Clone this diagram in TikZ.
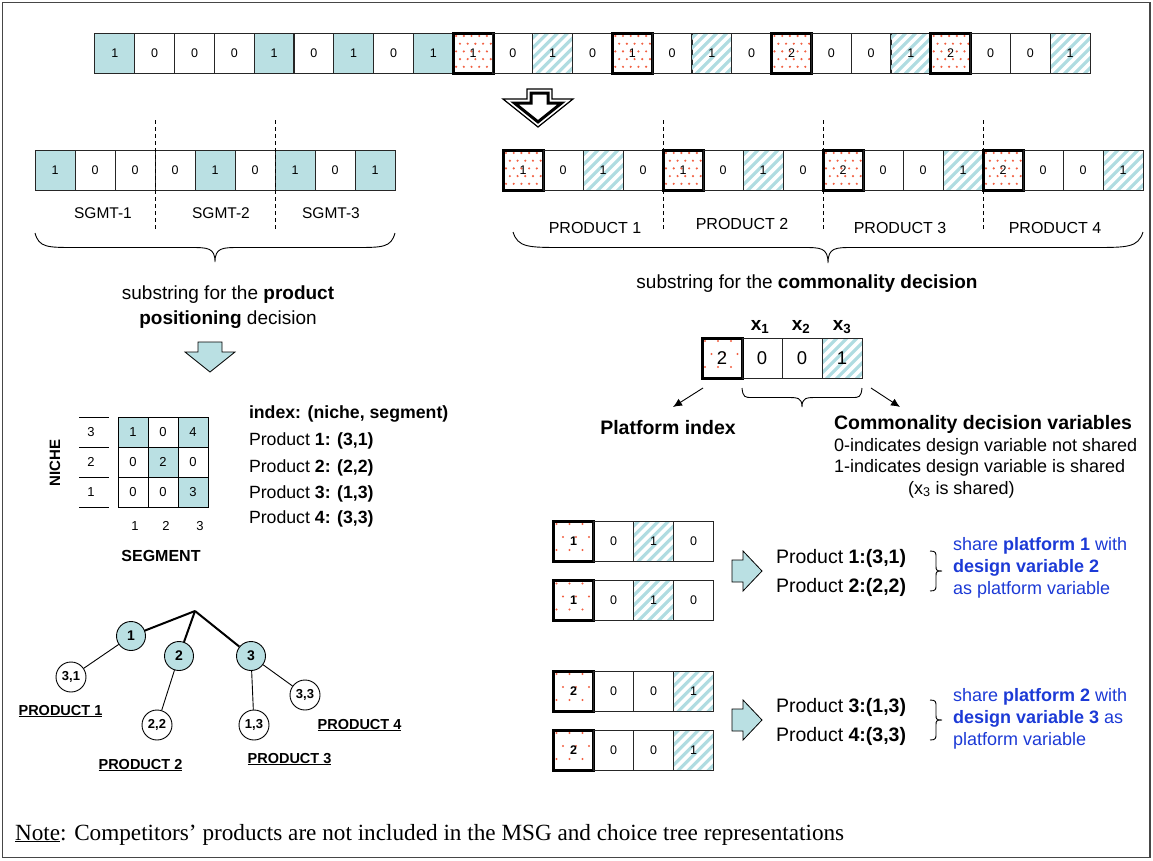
\documentclass[tikz,border=0pt]{standalone}
\usepackage{fontspec}
\setmainfont{Liberation Sans}
\newfontfamily\notefont{Liberation Serif}
\usetikzlibrary{arrows.meta,calc}

\definecolor{tealc}{RGB}{186,224,227}
\definecolor{hatchc}{RGB}{176,220,225}
\definecolor{dotred}{RGB}{242,96,66}
\definecolor{bluetxt}{RGB}{28,58,214}
\definecolor{framec}{RGB}{70,70,70}

\newcommand\fs[1]{\fontsize{#1}{#1}\selectfont}
% staggered grid of red dots, clipped to the current cell
\newcommand\dotgrid[1]{%
  \foreach \pj in {0,...,5}{\foreach \pk in {0,...,5}{%
    \fill[dotred] ($(path picture bounding box.north west)+({3pt+\pk*#1pt+mod(\pj,2)*#1pt/2},{-3pt-\pj*#1pt})$) circle (1.2pt);}}}
% diagonal teal stripes, clipped to the current cell
\newcommand\hatchgrid{%
  \foreach \hk in {-6,...,6}{%
    \draw[hatchc,line width=3.2pt] ($(path picture bounding box.south west)+(\hk*10pt,-5pt)$) -- ++(60pt,60pt);}}
% downward curly brace: x-left, x-right, y of the arm ends, y of the tip, arm run, tip run
\newcommand\downbrace[6]{%
  \pgfmathsetmacro\brmid{(#1+#2)/2}%
  \pgfmathsetmacro\brlev{(#3+#4)/2}%
  \draw[brace] (#1,#3) .. controls (#1+0.1*#5,\brlev) and (#1+0.3*#5,\brlev) .. (#1+#5,\brlev)
    -- (\brmid-#6,\brlev) .. controls (\brmid-0.3*#6,\brlev) and (\brmid,\brlev) .. (\brmid,#4)
    .. controls (\brmid,\brlev) and (\brmid+0.3*#6,\brlev) .. (\brmid+#6,\brlev)
    -- (#2-#5,\brlev) .. controls (#2-0.3*#5,\brlev) and (#2-0.1*#5,\brlev) .. (#2,#3);}
% small right-pointing brace: x of the arm ends, x of the tip, y-top, y-bottom
\newcommand\rightbrace[4]{%
  \pgfmathsetmacro\brmid{(#3+#4)/2}%
  \pgfmathsetmacro\brlev{(#1+#2)/2}%
  \draw[brace] (#1,#3) .. controls (\brlev,#3) and (\brlev,#3+2) .. (\brlev,#3+6)
    -- (\brlev,\brmid-5) .. controls (\brlev,\brmid-1) and (\brlev,\brmid) .. (#2,\brmid)
    .. controls (\brlev,\brmid) and (\brlev,\brmid+1) .. (\brlev,\brmid+5)
    -- (\brlev,#4-6) .. controls (\brlev,#4-2) and (\brlev,#4) .. (#1,#4);}

\tikzset{
  cellbox/.style={draw=black!85, line width=0.9pt, minimum width=40pt, minimum height=40pt,
    inner sep=0pt, outer sep=0pt, font=\fs{12.5}},
  tealcell/.style={fill=tealc},
  plaincell/.style={},
  hatchcell/.style={path picture={\hatchgrid}},
  dotcell/.style={line width=3pt, draw=black, path picture={\dotgrid{#1}}},
  dotcell/.default=7.7,
  sparsedots/.style={dotcell=13},
  gcell/.style={draw=black, line width=0.9pt, minimum size=30pt, inner sep=0pt, font=\fs{13}},
  lbl/.style={inner sep=0pt, outer sep=0pt},
  dashline/.style={dash pattern=on 4pt off 3pt, line width=0.9pt},
  brace/.style={line width=0.9pt},
  tnode/.style={circle, draw, line width=0.9pt, fill=tealc, minimum size=29pt, inner sep=0pt, font=\bfseries\fs{14}},
  leaf/.style={circle, draw, line width=0.9pt, fill=white, minimum size=30pt, inner sep=0pt, font=\bfseries\fs{13}},
  prodlbl/.style={lbl, anchor=base, font=\bfseries\fs{14.5}},
  blockarrow/.style={fill=tealc, draw=black, line width=0.8pt, line join=miter},
  pointer/.style={line width=0.9pt, -{Latex[length=9pt,width=8pt]}},
}

\begin{document}
\begin{tikzpicture}[x=1pt,y=-1pt]
\useasboundingbox (0,0) rectangle (1153,860);
\draw[framec,line width=1.5pt] (2.5,2.5) rectangle (1150,857.5);

% ---------- full chromosome ----------
\foreach \s/\v [count=\i from 0] in {tealcell/1,plaincell/0,plaincell/0,plaincell/0,tealcell/1,plaincell/0,tealcell/1,plaincell/0,tealcell/1,
  dotcell/1,plaincell/0,hatchcell/1,plaincell/0,dotcell/1,plaincell/0,hatchcell/1,plaincell/0,
  dotcell/2,plaincell/0,plaincell/0,hatchcell/1,dotcell/2,plaincell/0,plaincell/0,hatchcell/1}
  \node[cellbox,\s] (top\i) at ({114.9+\i*39.8},53) {\v};

% hollow split arrow
\draw[line width=1.2pt, fill=white, line join=miter] (527,89) -- (552,89) -- (552,99) -- (573,99) -- (538,127) -- (503,99) -- (527,99) -- cycle;
\draw[line width=3pt, fill=white, line join=miter] (531,93) -- (548,93) -- (548,103) -- (561.6,103) -- (538,121.9) -- (514.4,103) -- (531,103) -- cycle;

% ---------- product positioning substring ----------
\foreach \s/\v [count=\i from 0] in {tealcell/1,plaincell/0,plaincell/0,plaincell/0,tealcell/1,plaincell/0,tealcell/1,plaincell/0,tealcell/1}
  \node[cellbox,\s] (ps\i) at ({55+\i*40},170) {\v};
\draw[dashline] (155,120) -- (155,230);
\draw[dashline] (275,120) -- (275,230);
\node[lbl,anchor=base,font=\fs{15.5}] (sg1) at (103,218.5) {SGMT-1};
\node[lbl,anchor=base,font=\fs{15.5}] (sg2) at (221,218.5) {SGMT-2};
\node[lbl,anchor=base,font=\fs{15.5}] (sg3) at (331,218.5) {SGMT-3};
\downbrace{35}{395}{233}{262}{40}{25}
\node[lbl,anchor=base,font=\fs{19}] (subl1) at (228,299) {substring for the \textbf{product}};
\node[lbl,anchor=base,font=\fs{19}] (subl2) at (228,324) {\textbf{positioning} decision};

% ---------- commonality substring ----------
\foreach \s/\v [count=\i from 0] in {dotcell/1,plaincell/0,hatchcell/1,plaincell/0,dotcell/1,plaincell/0,hatchcell/1,plaincell/0,
  dotcell/2,plaincell/0,plaincell/0,hatchcell/1,dotcell/2,plaincell/0,plaincell/0,hatchcell/1}
  \node[cellbox,\s] (cs\i) at ({523+\i*40},170) {\v};
\draw[dashline] (663,120) -- (663,230);
\draw[dashline] (823,120) -- (823,230);
\draw[dashline] (983,120) -- (983,230);
\node[lbl,anchor=base,font=\fs{16}] (pr1) at (595,233.8) {PRODUCT 1};
\node[lbl,anchor=base,font=\fs{16}] (pr2) at (742,229.8) {PRODUCT 2};
\node[lbl,anchor=base,font=\fs{16}] (pr3) at (900,233.8) {PRODUCT 3};
\node[lbl,anchor=base,font=\fs{16}] (pr4) at (1055,233.8) {PRODUCT 4};
\downbrace{513}{1143}{232}{263}{50}{25}
\node[lbl,anchor=base,font=\fs{19}] (subr) at (807,288) {substring for the \textbf{commonality decision}};

% ---------- market segmentation grid ----------
\draw[blockarrow] (198,342) -- (222,342) -- (222,352) -- (235,352) -- (210,372) -- (185,352) -- (198,352) -- cycle;
\node[gcell,fill=tealc] (g11) at (133,432) {1};
\node[gcell] (g12) at (163,432) {0};
\node[gcell,fill=tealc] (g13) at (193,432) {4};
\node[gcell] (g21) at (133,462) {0};
\node[gcell,fill=tealc] (g22) at (163,462) {2};
\node[gcell] (g23) at (193,462) {0};
\node[gcell] (g31) at (133,492) {0};
\node[gcell] (g32) at (163,492) {0};
\node[gcell,fill=tealc] (g33) at (193,492) {3};
\foreach \yy in {417,447,477,507} \draw[line width=0.9pt] (79,\yy) -- (109,\yy);
\node[lbl,font=\fs{13}] (nr3) at (91,432) {3};
\node[lbl,font=\fs{13}] (nr2) at (91,462) {2};
\node[lbl,font=\fs{13}] (nr1) at (91,492) {1};
\node[lbl,font=\fs{13}] (sc1) at (135,526) {1};
\node[lbl,font=\fs{13}] (sc2) at (166,526) {2};
\node[lbl,font=\fs{13}] (sc3) at (200,526) {3};
\node[lbl,rotate=90,font=\bfseries\fs{15}] (niche) at (55,463) {NICHE};
\node[lbl,font=\bfseries\fs{16}] (segment) at (161,556) {SEGMENT};
\node[lbl,anchor=base west,font=\fs{17.7}] (ix0) at (249,418) {\textbf{index: (niche, segment)}};
\node[lbl,anchor=base west,font=\fs{17.7}] (ix1) at (249,445) {Product \textbf{1: (3,1)}};
\node[lbl,anchor=base west,font=\fs{17.7}] (ix2) at (249,472) {Product \textbf{2: (2,2)}};
\node[lbl,anchor=base west,font=\fs{17.7}] (ix3) at (249,498) {Product \textbf{3: (1,3)}};
\node[lbl,anchor=base west,font=\fs{17.7}] (ix4) at (249,523.5) {Product \textbf{4: (3,3)}};

% ---------- choice tree ----------
\coordinate (root) at (195,611);
\node[tnode] (n1) at (131,636) {1};
\node[tnode] (n2) at (179,656) {2};
\node[tnode] (n3) at (251,656) {3};
\node[leaf] (l31) at (71,677) {3,1};
\node[leaf] (l22) at (157,725) {2,2};
\node[leaf] (l13) at (254,725) {1,3};
\node[leaf] (l33) at (305,695) {3,3};
\draw[line width=2pt] (root) -- (n1);
\draw[line width=2pt] (root) -- (n2);
\draw[line width=2pt] (root) -- (n3);
\draw[line width=0.9pt] (n1) -- (l31);
\draw[line width=0.9pt] (n2) -- (l22);
\draw[line width=0.9pt] (n3) -- (l13);
\draw[line width=0.9pt] (n3) -- (l33);
\node[prodlbl] (tp1) at (60.5,715) {\underline{PRODUCT 1}};
\node[prodlbl] (tp2) at (140.5,769) {\underline{PRODUCT 2}};
\node[prodlbl] (tp3) at (289.5,763) {\underline{PRODUCT 3}};
\node[prodlbl] (tp4) at (359.5,729) {\underline{PRODUCT 4}};

% ---------- product substring layout ----------
\foreach \s/\v [count=\i from 0] in {sparsedots/2,plaincell/0,plaincell/0,hatchcell/1}
  \node[cellbox,font=\fs{18.5},\s] (pc\i) at ({722+\i*40},358) {\v};
\node[lbl,anchor=base,font=\bfseries\fs{19}] (x1) at (760,330) {x\textsubscript{1}};
\node[lbl,anchor=base,font=\bfseries\fs{19}] (x2) at (801,330) {x\textsubscript{2}};
\node[lbl,anchor=base,font=\bfseries\fs{19}] (x3) at (842,330) {x\textsubscript{3}};
\downbrace{742}{862}{388}{407}{10}{15}
\coordinate (pa1s) at (703,388);
\coordinate (pa1e) at (673,407);
\coordinate (pa2s) at (871,388);
\coordinate (pa2e) at (900,407);
\draw[pointer] (pa1s) -- (pa1e);
\draw[pointer] (pa2s) -- (pa2e);
\node[lbl,anchor=base,font=\bfseries\fs{19.5}] (pidx) at (668,434) {Platform index};
\node[lbl,anchor=base west,font=\bfseries\fs{19.5}] (cdv) at (834,429) {Commonality decision variables};
\node[lbl,anchor=base west,font=\fs{18}] (cdv0) at (834,451) {0-indicates design variable not shared};
\node[lbl,anchor=base west,font=\fs{18}] (cdv1) at (834,472) {1-indicates design variable is shared};
\node[lbl,anchor=base west,font=\fs{18}] (cdv2) at (908,494) {(x\textsubscript{3} is shared)};

% ---------- platform groups ----------
\foreach \yy/\rn in {541/rowa,600.5/rowb}{
  \node[cellbox,sparsedots] (\rn0) at (573.5,\yy) {\textbf{1}};
  \node[cellbox,plaincell] (\rn1) at (613.5,\yy) {0};
  \node[cellbox,hatchcell] (\rn2) at (653.5,\yy) {1};
  \node[cellbox,plaincell] (\rn3) at (693.5,\yy) {0};
}
\foreach \yy/\rn in {691/rowc,750/rowd}{
  \node[cellbox,sparsedots] (\rn0) at (573.5,\yy) {\textbf{2}};
  \node[cellbox,plaincell] (\rn1) at (613.5,\yy) {0};
  \node[cellbox,plaincell] (\rn2) at (653.5,\yy) {0};
  \node[cellbox,hatchcell] (\rn3) at (693.5,\yy) {1};
}
\draw[blockarrow] (732,560) -- (743,560) -- (743,551) -- (762,571) -- (743,591) -- (743,582) -- (732,582) -- cycle;
\draw[blockarrow] (732,709) -- (743,709) -- (743,700) -- (762,720) -- (743,740) -- (743,731) -- (732,731) -- cycle;
\node[lbl,anchor=base west,font=\fs{19.5}] (gp1) at (776,563) {Product \textbf{1:(3,1)}};
\node[lbl,anchor=base west,font=\fs{19.5}] (gp2) at (776,592) {Product \textbf{2:(2,2)}};
\node[lbl,anchor=base west,font=\fs{19.5}] (gp3) at (776,712) {Product \textbf{3:(1,3)}};
\node[lbl,anchor=base west,font=\fs{19.5}] (gp4) at (776,741) {Product \textbf{4:(3,3)}};
\rightbrace{930}{942}{551}{591}
\rightbrace{930}{942}{700}{740}
\node[lbl,anchor=base west,font=\fs{18},text=bluetxt] (sa1) at (953,550.5) {share \textbf{platform 1} with};
\node[lbl,anchor=base west,font=\fs{18},text=bluetxt] (sa2) at (953,572.5) {\textbf{design variable 2}};
\node[lbl,anchor=base west,font=\fs{18},text=bluetxt] (sa3) at (953,594.5) {as platform variable};
\node[lbl,anchor=base west,font=\fs{18},text=bluetxt] (sb1) at (953,701.5) {share \textbf{platform 2} with};
\node[lbl,anchor=base west,font=\fs{18},text=bluetxt] (sb2) at (953,723.5) {\textbf{design variable 3} as};
\node[lbl,anchor=base west,font=\fs{18},text=bluetxt] (sb3) at (953,745.5) {platform variable};

% ---------- footnote ----------
\node[lbl,anchor=base west,font=\notefont\fs{23.2}] (note) at (15,840) {\underline{Note}: Competitors’ products are not included in the MSG and choice tree representations};
\end{tikzpicture}
\end{document}
